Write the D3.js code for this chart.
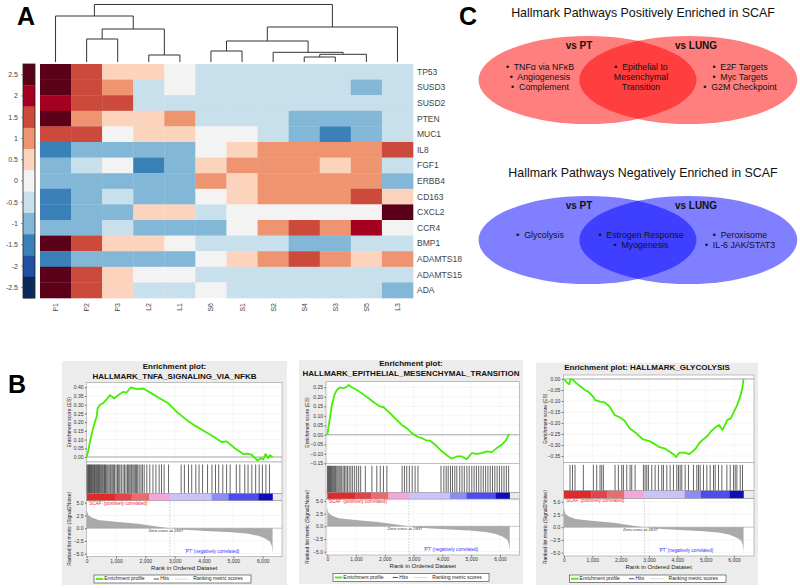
<!DOCTYPE html>
<html lang="en">
<head>
<meta charset="utf-8">
<title>SCAF figure</title>
<script src="https://d3js.org/d3.v7.min.js"></script>
<style>
  body { margin: 0; background: #fff; }
  svg { display: block; font-family: "Liberation Sans", Arial, sans-serif; }
  .pre { white-space: pre; }
</style>
</head>
<body>
<div id="chart"></div>
<script>
  // ---------- panel A data
  var samples = ["P1", "P2", "P3", "L2", "L1", "S6", "S1", "S2", "S4", "S3", "S5", "L3"];
  var genes = ["TP53", "SUSD3", "SUSD2", "PTEN", "MUC1", "IL8", "FGF1", "ERBB4", "CD163", "CXCL2", "CCR4", "BMP1", "ADAMTS18", "ADAMTS15", "ADA"];
  var zscores = [
    [2.5, 1.5, 0.5, 0.5, 0, -0.5, -0.5, -0.5, -0.5, -0.5, -0.5, -0.5],
    [2.5, 1.5, 1, -0.5, 0, -0.5, -0.5, -0.5, -0.5, -0.5, -1, -0.5],
    [2, 1.5, 1.5, -0.5, -0.5, -0.5, -0.5, -0.5, -0.5, -0.5, -0.5, -0.5],
    [2.5, 1, 0.5, 0.5, 1, -0.5, -0.5, -0.5, -1, -1, -1, -0.5],
    [1.5, 1.5, 0, 0.5, 0.5, 0, 0, -0.5, -1, -1.5, -1, -0.5],
    [-1.5, -1, -1, -1, -1, 0, 0.5, 1, 1, 1, 1, 1.5],
    [-1, -0.5, 0, -1.5, -1, 0.5, 1, 1, 1, 0.5, 1, -0.5],
    [-1, -1, -1, -1, -1, 1, 0.5, 1, 1, 1, 1, -1],
    [-1.5, -1, -0.5, -1, -1, 0, 0.5, 1, 1, 1, 1.5, 0.5],
    [-1.5, -1, -1, 0.5, 0.5, -0.5, 0, 0, 0, 0, 0, 2.5],
    [-1, -1, -0.5, -1, -1, -1, 0, 1, 1.5, 1, 2, 0],
    [2.5, 1.5, 0.5, 0.5, 0, -0.5, -0.5, -0.5, -1, -1, -0.5, -0.5],
    [-1.5, -1, -1, -1, -1, 0, 0.5, 1, 1.5, 1, 0.5, 1],
    [2.5, 1.5, 0.5, 0, 0, -0.5, -0.5, -0.5, -0.5, -0.5, -0.5, -0.5],
    [2.5, 1.5, 0.5, -0.5, -0.5, 0, -0.5, -0.5, -0.5, -0.5, -0.5, -1]
  ];
  var levels = [2.5, 2, 1.5, 1, 0.5, 0, -0.5, -1, -1.5, -2, -2.5];
  var levelLabels = ["2.5", "2", "1.5", "1", "0.5", "0", "-0.5", "-1", "-1.5", "-2", "-2.5"];
  var levelColors = ["#5c0019", "#a5001f", "#cb4a3c", "#ef9470", "#fcd3bc", "#f3f3f3",
    "#c8dfec", "#82b7d7", "#3a80b9", "#1f51a2", "#0c2a59"];
  // dendrogram: merge heights (leaf = 0)
  var tree = { h: 57.5, children: [
    { h: 46, children: [{ name: "P1" }, { h: 33, children: [
      { h: 23, children: [{ name: "P2" }, { name: "P3" }] },
      { h: 7, children: [{ name: "L2" }, { name: "L1" }] }] }] },
    { h: 35, children: [
      { h: 21, children: [
        { h: 11, children: [{ name: "S6" }, { name: "S1" }] },
        { h: 9.7, children: [{ name: "S2" }, { h: 7.7, children: [
          { h: 5, children: [{ name: "S4" }, { name: "S3" }] }, { name: "S5" }] }] }] },
      { name: "L3" }] }
  ] };

  // ---------- panel C data
  var posTitle = "Hallmark Pathways Positively Enriched in SCAF";
  var negTitle = "Hallmark Pathways Negatively Enriched in SCAF";
  var setNames = ["vs PT", "vs LUNG"];
  var posPT = ["\u2022  TNF\u03b1 via NF\u03baB", "\u2022  Angiogenesis", "\u2022  Complement"];
  var posBoth = ["\u2022  Epithelial to", "Mesenchymal", "Transition"];
  var posLung = ["\u2022  E2F Targets", "\u2022  Myc Targets", "\u2022  G2M Checkpoint"];
  var negPT = ["\u2022  Glycolysis"];
  var negBoth = ["\u2022  Estrogen Response", "\u2022  Myogenesis"];
  var negLung = ["\u2022  Peroxisome", "\u2022  IL-6 JAK/STAT3"];

  // ---------- panel B data
  var rankTicks = [0, 1000, 2000, 3000, 4000, 5000, 6000];
  var metricTicks = [5, 2.5, 0, -2.5, -5];
  var zeroCross = 2837;
  var rankedMetric = [[0, 3.6], [50, 2.6], [170, 2.1], [400, 1.6], [960, 1.25], [1760, 0.85], [2330, 0.4],
    [2837, 0], [3470, -0.35], [4260, -0.6], [4940, -0.8], [5510, -1.1], [5850, -1.5], [6080, -2.0],
    [6250, -2.6], [6310, -3.5], [6337, -4.9]];
  var barBreaks = [0, 966, 1534, 2125, 2837, 4261, 4830, 5852, 6337];
  var barColors = ["#e02a2a", "#e3434b", "#e96c6e", "#f2a6dc", "#c9c4f7", "#8c8cf4", "#4d4ded", "#0d0dbd"];

  var esTicksTnfa = [0, 0.05, 0.1, 0.15, 0.2, 0.25, 0.3, 0.35, 0.4];
  var esTnfa = [[0, 0], [60, 0.04], [113, 0.09], [191, 0.146], [259, 0.19], [338, 0.23], [372, 0.28],
    [452, 0.3], [565, 0.31], [679, 0.33], [793, 0.355], [940, 0.336], [1077, 0.355], [1247, 0.374],
    [1360, 0.37], [1508, 0.4], [1702, 0.39], [1929, 0.393], [2213, 0.365], [2440, 0.342], [2780, 0.308],
    [3064, 0.26], [3405, 0.213], [3689, 0.18], [4030, 0.146], [4314, 0.118], [4598, 0.086], [4768, 0.09],
    [5052, 0.05], [5336, 0.017], [5484, 0.019], [5620, 0.013], [5825, -0.02], [5939, -0.006],
    [6018, -0.015], [6097, 0.017], [6188, -0.006], [6245, 0.01], [6337, 0]];
  var hitsTnfa = [15, 40, 65, 90, 110, 135, 160, 185, 210, 240, 265, 290, 320, 345, 375, 400, 430, 460, 490,
    520, 550, 585, 610, 640, 680, 720, 760, 800, 830, 870, 910, 950, 1000, 1050, 1090, 1130, 1180, 1240,
    1290, 1340, 1390, 1430, 1470, 1510, 1540, 1580, 1620, 1660, 1700, 1740, 1790, 1850, 1900, 1960, 2050,
    2150, 2260, 2360, 2470, 2550, 2640, 2790, 3220, 3330, 3470, 3580, 3720, 3830, 3950, 4120, 4270, 4390,
    4500, 4640, 4770, 4890, 5100, 5220, 5390, 5500, 5630, 5760, 5880, 5990, 6110, 6230];

  var esTicksEmt = [-0.15, -0.1, -0.05, 0, 0.05, 0.1, 0.15, 0.2, 0.25];
  var esEmt = [[0, 0], [43, 0.044], [100, 0.096], [158, 0.157], [250, 0.21], [331, 0.236], [447, 0.25],
    [563, 0.245], [679, 0.252], [737, 0.262], [852, 0.25], [1026, 0.236], [1200, 0.218], [1431, 0.192],
    [1662, 0.166], [1836, 0.149], [1952, 0.145], [2126, 0.122], [2357, 0.087], [2588, 0.052], [2762, 0.035],
    [2936, 0.009], [3110, -0.009], [3283, -0.017], [3457, -0.031], [3573, -0.031], [3747, -0.052],
    [3978, -0.087], [4210, -0.114], [4326, -0.126], [4500, -0.114], [4673, -0.114], [4847, -0.128],
    [5021, -0.096], [5194, -0.1], [5368, -0.096], [5542, -0.087], [5715, -0.091], [5889, -0.07],
    [6063, -0.052], [6201, -0.031], [6317, 0.005]];
  var hitsEmt = [10, 35, 60, 85, 110, 140, 170, 200, 230, 260, 290, 330, 370, 410, 450, 500, 550, 600, 650,
    700, 760, 820, 880, 950, 1020, 1090, 1160, 1320, 1550, 1720, 1840, 1950, 2070, 2600, 2680, 2760, 2850,
    2950, 3050, 3150, 3950, 4050, 4130, 4200, 4280, 4350, 4430, 4500, 4600, 4680, 4760, 4850, 4930, 5020,
    5100, 5180, 5260, 5340, 5420, 5500, 5580, 5660, 5740, 5820, 5900, 5980, 6060, 6140, 6220, 6300];

  var esTicksGly = [-0.35, -0.3, -0.25, -0.2, -0.15, -0.1, -0.05, 0];
  var esGly = [[0, 0], [94, -0.015], [187, -0.024], [234, 0], [327, -0.005], [444, -0.02], [561, -0.032],
    [737, -0.05], [854, -0.058], [1029, -0.08], [1088, -0.095], [1263, -0.103], [1439, -0.106],
    [1614, -0.126], [1789, -0.164], [1965, -0.174], [2140, -0.19], [2316, -0.224], [2550, -0.247],
    [2784, -0.274], [3018, -0.282], [3193, -0.295], [3369, -0.31], [3544, -0.315], [3720, -0.33],
    [3895, -0.345], [3953, -0.356], [4070, -0.335], [4246, -0.335], [4421, -0.341], [4538, -0.33],
    [4655, -0.315], [4772, -0.292], [4889, -0.277], [5064, -0.259], [5181, -0.239], [5298, -0.224],
    [5474, -0.209], [5591, -0.232], [5766, -0.186], [5883, -0.179], [6000, -0.148], [6117, -0.118],
    [6234, -0.073], [6292, -0.042], [6337, 0]];
  var hitsGly = [212, 300, 389, 683, 1036, 1154, 1272, 1331, 1390, 1802, 1920, 2038, 2097, 2215, 2332, 2391,
    2509, 2803, 2862, 2921, 2980, 3098, 3216, 3333, 3451, 3510, 3628, 3746, 3863, 3981, 4040, 4099, 4158,
    4276, 4393, 4570, 4688, 4747, 4806, 4923, 5041, 5159, 5277, 5336, 5453, 5571, 5748, 5866, 5984, 6043,
    6102, 6220, 6300];

  // ---------- drawing
  var svg = d3.select('#chart').append('svg')
    .attr('width', 800)
    .attr('height', 588)
    .style('background', '#fff');

  // panel letters
  [["A", 17, 25], ["C", 459, 25], ["B", 8, 393]].forEach(function (p) {
    svg.append('text').attr('x', p[1]).attr('y', p[2])
      .attr('font-size', 25).attr('font-weight', 'bold').attr('fill', '#000').text(p[0]);
  });

  // ===== panel A: heatmap
  var hx = d3.scaleBand().domain(samples).range([40, 413]);
  var hy = d3.scaleBand().domain(genes).range([64, 298]);
  var color = d3.scaleOrdinal().domain(levels).range(levelColors);

  var cells = [];
  genes.forEach(function (g, i) {
    samples.forEach(function (s, j) {
      cells.push({ gene: g, sample: s, v: zscores[i][j] });
    });
  });

  svg.append('g').selectAll('rect')
    .data(cells)
    .enter()
    .append('rect')
    .attr('x', d => hx(d.sample))
    .attr('y', d => hy(d.gene))
    .attr('width', hx.bandwidth() + 0.3)
    .attr('height', hy.bandwidth() + 0.3)
    .attr('fill', d => color(d.v));

  svg.append('g').selectAll('text')
    .data(genes)
    .enter()
    .append('text')
    .attr('x', 417)
    .attr('y', d => hy(d) + hy.bandwidth() / 2)
    .attr('dy', '0.35em')
    .attr('font-size', 8.5)
    .attr('fill', '#444')
    .text(d => d);

  svg.append('g').selectAll('text')
    .data(samples)
    .enter()
    .append('text')
    .attr('transform', d => 'translate(' + (hx(d) + hx.bandwidth() / 2 + 2.5) + ',303) rotate(-90)')
    .attr('text-anchor', 'end')
    .attr('font-size', 7)
    .attr('fill', '#444')
    .text(d => d);

  // colour key
  var ky = d3.scaleBand().domain(levels).range([64, 298]);
  svg.append('g').selectAll('rect')
    .data(levels)
    .enter()
    .append('rect')
    .attr('x', 23)
    .attr('y', d => ky(d))
    .attr('width', 12)
    .attr('height', ky.bandwidth() + 0.3)
    .attr('fill', d => color(d));
  svg.append('rect').attr('x', 23).attr('y', 64).attr('width', 12).attr('height', 234)
    .attr('fill', 'none').attr('stroke', '#222').attr('stroke-width', 0.8);
  var keyLab = svg.append('g').selectAll('g')
    .data(levels)
    .enter()
    .append('g')
    .attr('transform', d => 'translate(0,' + (ky(d) + ky.bandwidth() / 2) + ')');
  keyLab.append('line').attr('x1', 21).attr('x2', 23).attr('stroke', '#555').attr('stroke-width', 0.6);
  keyLab.append('text')
    .attr('x', 18)
    .attr('dy', '0.35em')
    .attr('text-anchor', 'end')
    .attr('font-size', 7)
    .attr('fill', '#444')
    .text((d, i) => levelLabels[i]);

  // dendrogram
  var dY = d3.scaleLinear().domain([0, 60]).range([62, 2]);
  var root = d3.hierarchy(tree);
  root.eachAfter(function (n) {
    if (n.children) {
      n.px = (n.children[0].px + n.children[1].px) / 2;
      n.py = dY(n.data.h);
    } else {
      n.px = hx(n.data.name) + hx.bandwidth() / 2;
      n.py = dY(0);
    }
  });
  var dg = svg.append('g').attr('stroke', '#333').attr('stroke-width', 1).attr('fill', 'none');
  root.each(function (n) {
    if (!n.children) return;
    dg.append('line').attr('x1', n.children[0].px).attr('x2', n.children[1].px)
      .attr('y1', n.py).attr('y2', n.py);
    n.children.forEach(function (c) {
      dg.append('line').attr('x1', c.px).attr('x2', c.px).attr('y1', n.py).attr('y2', c.py);
    });
  });

  // ===== panel C: Venn diagrams
  function venn(title, titleY, cy, fill, left, mid, right) {
    var g = svg.append('g');
    g.append('text').attr('x', 643).attr('y', titleY).attr('text-anchor', 'middle')
      .attr('dominant-baseline', 'middle').attr('font-size', 12.4).attr('fill', '#111').text(title);
    g.selectAll('ellipse')
      .data([587.5, 688.3])
      .enter()
      .append('ellipse')
      .attr('cx', d => d)
      .attr('cy', cy)
      .attr('rx', 109)
      .attr('ry', 44)
      .attr('fill', fill)
      .attr('fill-opacity', 0.5);
    g.selectAll('text.set')
      .data(setNames)
      .enter()
      .append('text')
      .attr('class', 'set')
      .attr('x', (d, i) => [579, 696][i])
      .attr('y', cy - 34)
      .attr('text-anchor', 'middle')
      .attr('dominant-baseline', 'middle')
      .attr('font-size', 10)
      .attr('font-weight', 'bold')
      .attr('fill', '#111')
      .text(d => d);
    // lists start 12px above the centre when three lines long, otherwise 4px above
    [[left, 540], [mid, 641], [right, 740]].forEach(function (grp) {
      var y0 = cy + (grp[0].length > 2 ? -12 : -4);
      g.append('g').selectAll('text')
        .data(grp[0])
        .enter()
        .append('text')
        .attr('class', 'pre')
        .attr('x', grp[1])
        .attr('y', (d, i) => y0 + i * 10)
        .attr('text-anchor', 'middle')
        .attr('dominant-baseline', 'middle')
        .attr('font-size', 8.8)
        .attr('fill', '#111')
        .text(d => d);
    });
  }
  venn(posTitle, 14, 80, '#ff0000', posPT, posBoth, posLung);
  venn(negTitle, 174, 240, '#0000ff', negPT, negBoth, negLung);

  // ===== panel B: GSEA enrichment plots
  function drawGsea(cfg) {
    var g = svg.append('g');
    var b = cfg.box;
    var L = cfg.left, R = cfg.right;
    var x = d3.scaleLinear().domain([0, 6000]).range(cfg.xRange);
    var esY = d3.scaleLinear().domain(cfg.esDomain).range(cfg.esRange);
    var mY = d3.scaleLinear().domain([-5, 5]).range(cfg.mRange);

    g.append('rect').attr('x', b[0]).attr('y', b[1]).attr('width', b[2] - b[0]).attr('height', b[3] - b[1])
      .attr('fill', '#ececec');

    cfg.title.forEach(function (t, i) {
      g.append('text').attr('x', (b[0] + b[2]) / 2).attr('y', cfg.titleY[i])
        .attr('text-anchor', 'middle').attr('dominant-baseline', 'middle')
        .attr('font-size', 8).attr('font-weight', 'bold').attr('fill', '#111').text(t);
    });

    function panel(y0, y1) {
      g.append('rect').attr('x', L).attr('y', y0).attr('width', R - L).attr('height', y1 - y0)
        .attr('fill', '#fff').attr('stroke', '#999').attr('stroke-width', 0.6);
    }
    panel(cfg.esTop, cfg.esBottom);
    panel(cfg.esBottom, cfg.barTop);
    panel(cfg.barBottom, cfg.rankBottom);

    // grid
    var grid = g.append('g').attr('stroke', '#d8d8d8').attr('stroke-width', 0.5).attr('stroke-dasharray', '1,1');
    rankTicks.forEach(function (t) {
      grid.append('line').attr('x1', x(t)).attr('x2', x(t)).attr('y1', cfg.esTop).attr('y2', cfg.esBottom);
      grid.append('line').attr('x1', x(t)).attr('x2', x(t)).attr('y1', cfg.barBottom).attr('y2', cfg.rankBottom);
    });
    cfg.esTicks.forEach(function (t) {
      grid.append('line').attr('x1', L).attr('x2', R).attr('y1', esY(t)).attr('y2', esY(t));
    });
    metricTicks.forEach(function (t) {
      grid.append('line').attr('x1', L).attr('x2', R).attr('y1', mY(t)).attr('y2', mY(t));
    });

    // ES zero line and profile
    g.append('line').attr('x1', L).attr('x2', R).attr('y1', esY(0)).attr('y2', esY(0))
      .attr('stroke', '#888').attr('stroke-width', 0.7);
    g.append('path')
      .datum(cfg.es)
      .attr('d', d3.line().x(d => x(d[0])).y(d => esY(d[1])))
      .attr('fill', 'none')
      .attr('stroke', '#44ee00')
      .attr('stroke-width', 1.8)
      .attr('stroke-linejoin', 'round');

    // hits
    g.append('g').selectAll('line')
      .data(cfg.hits)
      .enter()
      .append('line')
      .attr('x1', d => x(d)).attr('x2', d => x(d))
      .attr('y1', cfg.esBottom + 2.5).attr('y2', cfg.barTop)
      .attr('stroke', '#222').attr('stroke-width', 0.7);

    // colour bar
    g.append('g').selectAll('rect')
      .data(barColors)
      .enter()
      .append('rect')
      .attr('x', (d, i) => x(barBreaks[i]))
      .attr('width', (d, i) => x(barBreaks[i + 1]) - x(barBreaks[i]) + 0.2)
      .attr('y', cfg.barTop)
      .attr('height', cfg.barBottom - cfg.barTop)
      .attr('fill', d => d);
    g.append('rect').attr('x', L).attr('y', cfg.barTop).attr('width', R - L).attr('height', cfg.barBottom - cfg.barTop)
      .attr('fill', 'none').attr('stroke', '#999').attr('stroke-width', 0.5);

    // ranked list metric
    g.append('path')
      .datum(rankedMetric)
      .attr('d', d3.area().x(d => x(d[0])).y0(mY(0)).y1(d => mY(d[1])))
      .attr('fill', '#aaaaaa');
    g.append('line').attr('x1', L).attr('x2', R).attr('y1', mY(0)).attr('y2', mY(0))
      .attr('stroke', '#999').attr('stroke-width', 0.5);
    g.append('line').attr('x1', x(zeroCross)).attr('x2', x(zeroCross))
      .attr('y1', cfg.barBottom).attr('y2', cfg.rankBottom)
      .attr('stroke', '#aaa').attr('stroke-width', 0.6).attr('stroke-dasharray', '1.5,1.5');
    g.append('text').attr('x', L + 2).attr('y', cfg.barBottom + 2.6).attr('dominant-baseline', 'middle')
      .attr('font-size', 4.6).attr('fill', '#f03030').text("'SCAF' (positively correlated)");
    g.append('text').attr('x', x(3350)).attr('y', mY(-4.6)).attr('dominant-baseline', 'middle')
      .attr('font-size', 4.6).attr('fill', '#3333ff').text("'PT' (negatively correlated)");
    g.append('text').attr('x', x(zeroCross) - 4).attr('y', mY(0) + 2.2).attr('dominant-baseline', 'middle')
      .attr('text-anchor', 'middle').attr('font-size', 4.2).attr('fill', '#333').text('Zero cross at ' + zeroCross);

    // axes
    var ax = g.append('g').attr('transform', 'translate(' + L + ',0)')
      .call(d3.axisLeft(esY).tickValues(cfg.esTicks).tickFormat(d3.format('.2f')).tickSize(1.5).tickPadding(1.5));
    var am = g.append('g').attr('transform', 'translate(' + L + ',0)')
      .call(d3.axisLeft(mY).tickValues(metricTicks).tickFormat(d3.format('.1f')).tickSize(1.5).tickPadding(1.5));
    var ab = g.append('g').attr('transform', 'translate(0,' + cfg.rankBottom + ')')
      .call(d3.axisBottom(x).tickValues(rankTicks).tickFormat(d3.format(',')).tickSize(1.5).tickPadding(1));
    [ax, am, ab].forEach(function (a) {
      a.attr('font-size', 5).attr('font-family', null);
      a.select('.domain').remove();
      a.selectAll('line').attr('stroke', '#666');
      a.selectAll('text').attr('fill', '#333');
    });

    g.append('text').attr('x', (L + R) / 2).attr('y', cfg.axisTitleY).attr('text-anchor', 'middle')
      .attr('dominant-baseline', 'middle').attr('font-size', 6).attr('fill', '#222').text('Rank in Ordered Dataset');
    g.append('text')
      .attr('transform', 'translate(' + cfg.yLabelX + ',' + (cfg.esTop + cfg.esBottom) / 2 + ') rotate(-90)')
      .attr('text-anchor', 'middle').attr('dominant-baseline', 'middle')
      .attr('font-size', 5).attr('fill', '#222').text('Enrichment score (ES)');
    g.append('text')
      .attr('transform', 'translate(' + cfg.yLabelX + ',' + (cfg.barBottom + cfg.rankBottom) / 2 + ') rotate(-90)')
      .attr('text-anchor', 'middle').attr('dominant-baseline', 'middle')
      .attr('font-size', 5).attr('fill', '#222').text('Ranked list metric (Signal2Noise)');

    // legend
    var lg = cfg.legend;
    var lgG = g.append('g').attr('transform', 'translate(' + lg[0] + ',' + lg[1] + ')');
    lgG.append('rect').attr('width', lg[2]).attr('height', lg[3]).attr('fill', '#fff')
      .attr('stroke', '#333').attr('stroke-width', 0.6);
    var items = [
      { label: 'Enrichment profile', c: '#44ee00', w: 1.8, x0: 1.7, x1: 9.3, tx: 10.3 },
      { label: 'Hits', c: '#222', w: 0.8, x0: 59.7, x1: 65, tx: 66.3 },
      { label: 'Ranking metric scores', c: '#d0d0d0', w: 0.8, x0: 81, x1: 94.3, tx: 99.3 }
    ];
    items.forEach(function (it) {
      lgG.append('line').attr('x1', it.x0).attr('x2', it.x1).attr('y1', lg[3] / 2).attr('y2', lg[3] / 2)
        .attr('stroke', it.c).attr('stroke-width', it.w);
      lgG.append('text').attr('x', it.tx).attr('y', lg[3] / 2).attr('dominant-baseline', 'middle')
        .attr('font-size', 5).attr('fill', '#222').text(it.label);
    });
  }

  drawGsea({
    box: [62, 361, 287, 585],
    title: ['Enrichment plot:', 'HALLMARK_TNFA_SIGNALING_VIA_NFKB'], titleY: [367, 376.5],
    left: 86.5, right: 282, xRange: [86.7, 262.7],
    esTop: 382.5, esBottom: 462, esDomain: [0, 0.4], esRange: [457, 387.3], esTicks: esTicksTnfa,
    barTop: 493.3, barBottom: 500.7, rankBottom: 556.7, mRange: [553.7, 502.7],
    axisTitleY: 568, yLabelX: 69.5, legend: [94, 575, 157, 8],
    es: esTnfa, hits: hitsTnfa
  });
  drawGsea({
    box: [299, 360, 523, 584],
    title: ['Enrichment plot:', 'HALLMARK_EPITHELIAL_MESENCHYMAL_TRANSITION'], titleY: [364.3, 374.3],
    left: 326, right: 519.5, xRange: [327.3, 500],
    esTop: 381.7, esBottom: 463.3, esDomain: [-0.15, 0.25], esRange: [463.3, 387.3], esTicks: esTicksEmt,
    barTop: 492.3, barBottom: 499, rankBottom: 555, mRange: [551.7, 501],
    axisTitleY: 566, yLabelX: 308, legend: [333, 573.3, 156, 8.3],
    es: esEmt, hits: hitsEmt
  });
  drawGsea({
    box: [536, 362.7, 758, 585],
    title: ['Enrichment plot: HALLMARK_GLYCOLYSIS'], titleY: [367.7],
    left: 563.3, right: 754, xRange: [564, 734],
    esTop: 375, esBottom: 462.3, esDomain: [-0.35, 0], esRange: [456, 379], esTicks: esTicksGly,
    barTop: 490.7, barBottom: 498.3, rankBottom: 556, mRange: [552.7, 501.7],
    axisTitleY: 567.7, yLabelX: 545.5, legend: [569.3, 575, 156.7, 7.5],
    es: esGly, hits: hitsGly
  });
</script>
</body>
</html>
